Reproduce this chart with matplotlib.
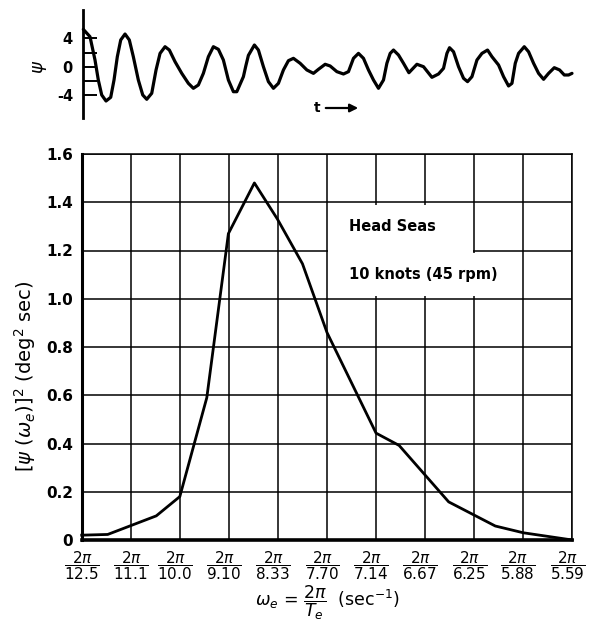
import matplotlib
matplotlib.use("Agg")
import matplotlib.pyplot as plt
from matplotlib.patches import Rectangle
from matplotlib.transforms import ScaledTranslation

plt.rcParams["font.family"] = ["DejaVu Sans"]
plt.rcParams["mathtext.fontset"] = "dejavusans"

# --- roll record (top trace), time in arbitrary units, roll angle in degrees ---
roll_t = [0.06, 0.73, 1.23, 1.56, 1.9, 2.33, 2.8, 3.13, 3.46, 3.8, 4.23, 4.66, 5.06, 5.56,
          6.0, 6.4, 6.9, 7.33, 7.73, 8.23, 8.66, 9.23, 9.9, 10.56, 11.06, 11.56, 12.06,
          12.56, 13.06, 13.56, 14.06, 14.56, 15.06, 15.4, 16.06, 16.3, 16.56, 17.16,
          17.56, 18.06, 18.56, 19.06, 19.56, 20.06, 20.56, 21.06, 21.73, 22.4, 23.06,
          23.56, 24.23, 24.73, 25.4, 26.06, 26.56, 27.06, 27.56, 28.06, 28.56, 29.06,
          29.56, 30.06, 30.4, 30.73, 31.06, 31.56, 32.06, 32.6, 33.4, 34.06, 34.9,
          35.56, 36.06, 36.4, 36.66, 37.06, 37.56, 38.06, 38.46, 38.9, 39.4, 39.9,
          40.46, 40.9, 41.56, 42.06, 42.56, 42.9, 43.23, 43.56, 44.13, 44.56, 45.06,
          45.56, 46.06, 46.56, 47.13, 47.66, 48.13, 48.56, 48.9]
roll_deg = [5.27, 4.23, 0.94, -1.88, -3.99, -4.84, -4.32, -1.88, 1.41, 3.77, 4.61, 3.77,
            1.41, -1.88, -3.99, -4.6, -3.75, -0.46, 1.88, 2.82, 2.35, 0.7, -0.94, -2.35,
            -3.05, -2.58, -0.94, 1.41, 2.82, 2.45, 0.94, -1.88, -3.53, -3.53, -1.41, 0.1,
            1.6, 3.06, 2.35, 0.0, -2.11, -3.05, -2.35, -0.46, 0.85, 1.18, 0.48, -0.46,
            -0.94, -0.37, 0.34, 0.1, -0.7, -1.03, -0.7, 1.18, 1.88, 1.18, -0.46, -1.88,
            -3.05, -1.88, 0.48, 1.88, 2.35, 1.65, 0.48, -0.85, 0.34, 0.0, -1.5,
            -1.03, -0.23, 1.88, 2.68, 2.11, 0.0, -1.64, -2.11, -1.41, 0.94, 1.88,
            2.35, 1.41, 0.24, -1.41, -2.72, -2.35, 0.48, 1.88, 2.82, 2.11, 0.48,
            -0.94, -1.78, -0.94, -0.14, -0.46, -1.17, -1.17, -0.94]
roll_ticks = [4, 2, 0, -2, -4]
roll_ticklabels = ["4", "", "0", "", "-4"]

# --- roll spectrum, x in tick positions (one per encounter period) ---
periods = ["12.5", "11.1", "10.0", "9.10", "8.33", "7.70", "7.14", "6.67", "6.25", "5.88", "5.59"]
spec_x = [0, 0.53, 1.52, 2.0, 2.55, 2.99, 3.52, 3.99, 4.5, 5.0, 6.0, 6.47, 7.48, 8.43, 9.0, 10.0]
spec_y = [0.02, 0.023, 0.10, 0.18, 0.59, 1.27, 1.48, 1.33, 1.145, 0.86, 0.443, 0.392, 0.158, 0.058, 0.03, 0.0]
y_ticks = [0, 0.2, 0.4, 0.6, 0.8, 1.0, 1.2, 1.4, 1.6]
y_ticklabels = ["0", "0.2", "0.4", "0.6", "0.8", "1.0", "1.2", "1.4", "1.6"]

W, H = 589, 639
fig = plt.figure(figsize=(W / 100, H / 100), dpi=100)

# === top: roll time history ===
ax_top = fig.add_axes([82.7 / W, 1 - 118 / H, (574 - 82.7) / W, 108 / H])
ax_top.plot(roll_t, roll_deg, color="black", lw=2.3, solid_joinstyle="round",
            solid_capstyle="round", clip_on=False)
ax_top.set_xlim(0, 49.1)
ax_top.set_ylim(-7.24, 8.0)
for s in ["top", "right", "bottom"]:
    ax_top.spines[s].set_visible(False)
ax_top.spines["left"].set_linewidth(2.0)
ax_top.set_xticks([])
ax_top.set_yticks(roll_ticks)
ax_top.set_yticklabels(roll_ticklabels, fontsize=10.5, fontweight="bold")
ax_top.tick_params(axis="y", direction="in", length=10, width=1.4, pad=7)
fig.text(40 / W, 1 - 67 / H, r"$\psi$", fontsize=13, rotation=90, ha="center", va="center")
fig.text(317 / W, 1 - 108 / H, "t", fontsize=10, fontweight="bold", ha="center", va="center")
ax_top.annotate("", xy=(361 / W, 1 - 108 / H), xytext=(323 / W, 1 - 108 / H),
                xycoords="figure fraction", textcoords="figure fraction",
                arrowprops=dict(arrowstyle="-|>", color="black", lw=1.6, mutation_scale=12))

# === bottom: roll spectrum ===
ax = fig.add_axes([81.7 / W, 1 - 540 / H, (572.3 - 81.7) / W, (540 - 154) / H])
ax.plot(spec_x, spec_y, color="black", lw=2.0, clip_on=False, zorder=3)
ax.set_xlim(0, 10)
ax.set_ylim(0, 1.6)
ax.set_xticks(range(len(periods)))
ax.set_xticklabels([r"$\dfrac{2\pi}{%s}$" % p for p in periods], fontsize=11)
ax.set_yticks(y_ticks)
ax.set_yticklabels(y_ticklabels, fontsize=11, fontweight="bold")
ax.tick_params(length=0)
ax.tick_params(axis="y", pad=6)
ax.tick_params(axis="x", pad=7)
ax.grid(True, color="black", lw=1.1)
ax.spines["left"].set_linewidth(2.2)
ax.spines["bottom"].set_linewidth(2.6)
ax.spines["top"].set_linewidth(1.1)
ax.spines["right"].set_linewidth(1.1)

# the later period labels sit a little left of their grid lines
shift = ScaledTranslation(-5 / 100, 0, fig.dpi_scale_trans)
for lbl in ax.get_xticklabels()[2:]:
    lbl.set_transform(lbl.get_transform() + shift)

# white boxes behind the notes
ax.add_patch(Rectangle((5.03, 1.01), 2.94, 0.38, fc="white", ec="none", zorder=1.6))
ax.add_patch(Rectangle((7.9, 1.01), 0.95, 0.18, fc="white", ec="none", zorder=1.6))
ax.text(5.45, 1.30, "Head Seas", fontsize=10.5, fontweight="bold", va="center", zorder=4)
ax.text(5.45, 1.10, "10 knots (45 rpm)", fontsize=10.5, fontweight="bold", va="center", zorder=4)

fig.text(327 / W, 1 - 603 / H, r"$\omega_e$ = $\dfrac{2\pi}{T_e}$  (sec$^{-1}$)",
         fontsize=12.5, ha="center", va="center")
fig.text(25 / W, 1 - 376 / H,
         r"$\left[\psi\ (\omega_e)\right]^2$ (deg$^2$ sec)",
         fontsize=14, rotation=90, ha="center", va="center")

fig.savefig("out.png", dpi=100)
